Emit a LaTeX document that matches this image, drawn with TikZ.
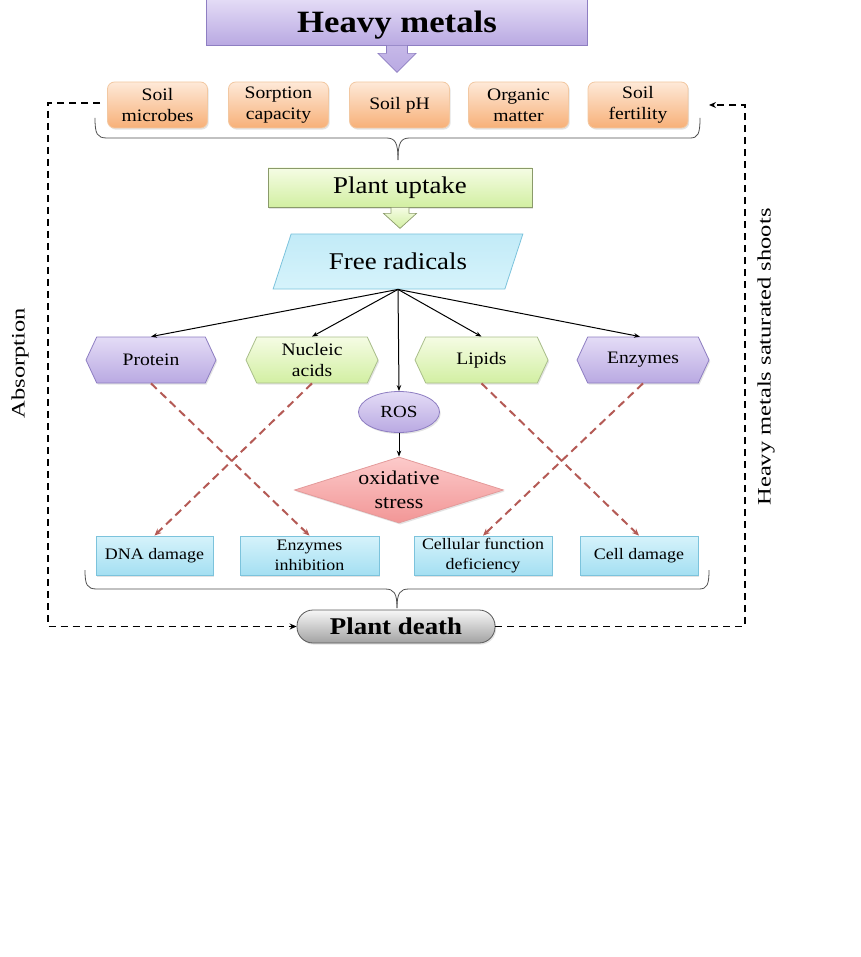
\documentclass[tikz,border=0pt]{standalone}
\usepackage{fontspec}
\setmainfont[FakeStretch=1.12]{Liberation Serif}
\usetikzlibrary{shapes.geometric,shapes.symbols,shadows,arrows.meta,calc}
\definecolor{lavT}{HTML}{E4DCF6}
\definecolor{lavB}{HTML}{B9A9E2}
\definecolor{lavD}{HTML}{8E7EC2}
\definecolor{orT}{HTML}{FEE9D8}
\definecolor{orB}{HTML}{F7B078}
\definecolor{orD}{HTML}{F2C8A2}
\definecolor{grT}{HTML}{F5FCE4}
\definecolor{grB}{HTML}{D2EFA2}
\definecolor{grD}{HTML}{A9BE8A}
\definecolor{puD}{HTML}{8A9A6A}
\definecolor{cyT}{HTML}{D6F3FB}
\definecolor{cyB}{HTML}{A4DFF2}
\definecolor{cyD}{HTML}{7CC3DC}
\definecolor{rdT}{HTML}{FCCACA}
\definecolor{rdB}{HTML}{F29696}
\definecolor{rdD}{HTML}{E39A9A}
\definecolor{dashred}{HTML}{B45A55}
\definecolor{gyT}{HTML}{F7F7F7}
\definecolor{gyB}{HTML}{A2A2A2}
\definecolor{gyD}{HTML}{5A5A5A}
\definecolor{braceC}{HTML}{505050}
\begin{document}
\begin{tikzpicture}[x=1pt,y=-1pt,
  base/.style={draw, line width=0.8pt, inner sep=1pt, align=center, text=black},
  shad/.style={drop shadow={shadow xshift=1.2pt, shadow yshift=-1.6pt, opacity=0.22}},
  lavbox/.style={base, top color=lavT, bottom color=lavB, draw=lavD},
  orbox/.style={base, shad, top color=orT, bottom color=orB, draw=orD, rounded corners=7pt,
    minimum width=100pt, minimum height=46pt, font=\fontsize{17.5}{21}\selectfont},
  pubox/.style={base, shad, top color=grT, bottom color=grB, draw=puD,
    minimum width=264pt, minimum height=39pt, font=\fontsize{24}{27}\selectfont},
  hexbase/.style={base, shad, signal, signal to=west and east, signal pointer angle=130,
    minimum height=46pt, inner xsep=0pt, font=\fontsize{17.5}{21}\selectfont},
  hexlav/.style={hexbase, top color=lavT, bottom color=lavB, draw=lavD},
  hexgr/.style={hexbase, top color=grT, bottom color=grB, draw=grD},
  botbox/.style={base, shad, top color=cyT, bottom color=cyB, draw=cyD,
    minimum height=39pt, font=\fontsize{16}{19.5}\selectfont},
  conn/.style={line width=1pt, -{Stealth[length=6pt,width=4.5pt]}},
  reddash/.style={draw=dashred, line width=2pt, dash pattern=on 8pt off 5pt,
    -{Stealth[length=7pt,width=6pt]}},
  blkdash/.style={line width=1.8pt, dash pattern=on 7pt off 5pt},
  bracel/.style={draw=braceC, line width=0.8pt},
  sidetxt/.style={rotate=90, font=\fontsize{19}{22}\selectfont}
]
\useasboundingbox (0,0) rectangle (860,957);

% Heavy metals
\node[lavbox, minimum width=381pt, minimum height=46pt, text height=21pt, text depth=0pt,
  font=\fontsize{31}{34}\selectfont\bfseries] (hm) at (397,22) {Heavy metals};
\path (hm.south) coordinate (a1);
\draw[draw=lavD, line width=0.7pt, top color=lavB!70!lavT, bottom color=lavB]
  ($(a1)+(-10.5,0)$) -- ($(a1)+(10.5,0)$) -- ($(a1)+(10.5,8)$) -- ($(a1)+(19,8)$)
  -- ($(a1)+(0,27)$) -- ($(a1)+(-19,8)$) -- ($(a1)+(-10.5,8)$) -- cycle;

% Soil factors
\node[orbox] (o1) at (157.5,105) {Soil\\microbes};
\node[orbox] (o2) at (278.5,105) {Sorption\\capacity};
\node[orbox] (o3) at (399.5,105) {Soil pH};
\node[orbox] (o4) at (518.5,105) {Organic\\matter};
\node[orbox] (o5) at (638,105) {Soil\\fertility};

% top brace
\draw[bracel] (95,118) .. controls (95,134) and (97,138) .. (107,138) -- (386,138)
  .. controls (395,138) and (398,142) .. (398,160);
\draw[bracel] (398,160) .. controls (398,142) and (401,138) .. (410,138) -- (690,138)
  .. controls (698,138) and (700,134) .. (700,118);

% Plant uptake
\node[pubox] (pu) at (400,187.5) {Plant uptake};
\path (pu.south) coordinate (a2);
\draw[draw=puD, line width=0.7pt, top color=grT, bottom color=grB]
  ($(a2)+(-9,0)$) -- ($(a2)+(9,0)$) -- ($(a2)+(9,6)$) -- ($(a2)+(16.5,6)$)
  -- ($(a2)+(0,21)$) -- ($(a2)+(-16.5,6)$) -- ($(a2)+(-9,6)$) -- cycle;

% Free radicals
\node[base, trapezium, trapezium left angle=58, trapezium right angle=122,
  trapezium stretches=true, minimum width=250pt, minimum height=55pt,
  top color=cyT!60!cyB, bottom color=cyT, draw=cyD,
  font=\fontsize{24}{27}\selectfont] (fr) at (398,261.5) {Free radicals};

% hexagons
\node[hexlav, minimum width=130pt] (prot) at (151,360) {Protein};
\node[hexgr, minimum width=132pt] (nuc) at (312,360) {Nucleic\\acids};
\node[hexgr, minimum width=133pt] (lip) at (481.5,360) {Lipids};
\node[hexlav, minimum width=132pt] (enz) at (643,360) {Enzymes};

% ROS
\node[base, shad, ellipse, minimum width=81pt, minimum height=41pt, inner sep=0pt,
  top color=lavT, bottom color=lavB, draw=lavD,
  font=\fontsize{17}{20}\selectfont] (ros) at (399,412) {ROS};

% oxidative stress
\node[base, shad, diamond, aspect=3.2, minimum width=209pt, minimum height=66pt, inner sep=0pt,
  top color=rdT, bottom color=rdB, draw=rdD,
  font=\fontsize{19.5}{24}\selectfont] (ox) at (399,490) {oxidative\\stress};

% arrows from free radicals
\draw[conn] (fr.south) -- (prot.north);
\draw[conn] (fr.south) -- (nuc.north);
\draw[conn] (fr.south) -- (lip.north);
\draw[conn] (fr.south) -- ($(enz.north)+(-3,0)$);
\draw[conn] (fr.south) -- (ros.north);
\draw[conn] (ros.south) -- (ox.north);

% bottom boxes
\node[botbox, minimum width=117pt] (dna) at (154.5,555.5) {DNA damage};
\node[botbox, minimum width=139pt] (ei) at (309.5,555.5) {Enzymes\\inhibition};
\node[botbox, minimum width=138pt] (cf) at (483,555.5) {Cellular function\\deficiency};
\node[botbox, minimum width=118pt] (cd) at (639,555.5) {Cell damage};

% red dashed links
\draw[reddash] (prot.south) -- (ei.north);
\draw[reddash] (nuc.south) -- (dna.north);
\draw[reddash] (lip.south) -- (cd.north);
\draw[reddash] (enz.south) -- (cf.north);

% bottom brace
\draw[bracel] (85,570) .. controls (85,585) and (87,589) .. (97,589) -- (385,589)
  .. controls (394,589) and (397,593) .. (397,608);
\draw[bracel] (397,608) .. controls (397,593) and (400,589) .. (409,589) -- (699,589)
  .. controls (707,589) and (709,585) .. (709,570);

% Plant death
\node[base, shad, rounded corners=16pt, minimum width=198pt, minimum height=33pt,
  top color=gyT, bottom color=gyB, draw=gyD,
  font=\fontsize{24}{27}\selectfont\bfseries] (pd) at (396,626.5) {Plant death};

% dashed feedback loops
\coordinate (lstart) at (100,103);
\coordinate (rend) at (709,105);
\draw[blkdash, -{Stealth[length=7pt,width=6pt]}] (lstart) -- (48,103) |- (pd.west);
\draw[blkdash, -{Stealth[length=7pt,width=6pt]}] (pd.east) -| (745,105) -- (rend);

% side labels
\node[sidetxt] (absl) at (20,363) {\scalebox{1.15}[1]{Absorption}};
\node[sidetxt] (hmss) at (766,357) {\scalebox{1.15}[1]{Heavy metals saturated shoots}};
\end{tikzpicture}
\end{document}
